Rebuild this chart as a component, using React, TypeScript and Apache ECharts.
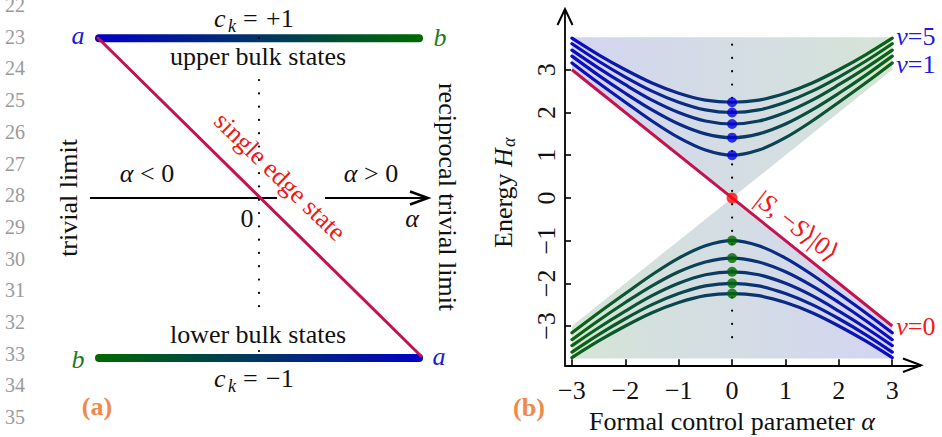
import React, { useEffect, useRef } from 'react';
import * as echarts from 'echarts';

const FONT = '"Liberation Serif", "DejaVu Serif", serif';

// ---- data (panel b) ----
const alphaGrid = [-3, -2.5, -2, -1.5, -1, -0.5, 0, 0.5, 1, 1.5, 2, 2.5, 3];
const upperV1 = [3.16, 2.69, 2.24, 1.80, 1.41, 1.12, 1.00, 1.12, 1.41, 1.80, 2.24, 2.69, 3.16];
const upperV2 = [3.32, 2.87, 2.45, 2.06, 1.73, 1.50, 1.41, 1.50, 1.73, 2.06, 2.45, 2.87, 3.32];
const upperV3 = [3.46, 3.04, 2.65, 2.29, 2.00, 1.80, 1.73, 1.80, 2.00, 2.29, 2.65, 3.04, 3.46];
const upperV4 = [3.61, 3.20, 2.83, 2.50, 2.24, 2.06, 2.00, 2.06, 2.24, 2.50, 2.83, 3.20, 3.61];
const upperV5 = [3.74, 3.35, 3.00, 2.69, 2.45, 2.29, 2.24, 2.29, 2.45, 2.69, 3.00, 3.35, 3.74];
const lowerV1 = [-3.16, -2.69, -2.24, -1.80, -1.41, -1.12, -1.00, -1.12, -1.41, -1.80, -2.24, -2.69, -3.16];
const lowerV2 = [-3.32, -2.87, -2.45, -2.06, -1.73, -1.50, -1.41, -1.50, -1.73, -2.06, -2.45, -2.87, -3.32];
const lowerV3 = [-3.46, -3.04, -2.65, -2.29, -2.00, -1.80, -1.73, -1.80, -2.00, -2.29, -2.65, -3.04, -3.46];
const lowerV4 = [-3.61, -3.20, -2.83, -2.50, -2.24, -2.06, -2.00, -2.06, -2.24, -2.50, -2.83, -3.20, -3.61];
const lowerV5 = [-3.74, -3.35, -3.00, -2.69, -2.45, -2.29, -2.24, -2.29, -2.45, -2.69, -3.00, -3.35, -3.74];
const edgeAlpha = [-3, 3];
const edgeEnergy = [3, -3];
const upperDots = [1.0, 1.41, 1.73, 2.0, 2.24];
const lowerDots = [-1.0, -1.41, -1.73, -2.0, -2.24];
const upperCone = [[-3, 3.76], [3, 3.76], [3, 3], [0, 0], [-3, 3]];
const lowerCone = [[-3, -3], [0, 0], [3, -3], [3, -3.76], [-3, -3.76]];
const dottedRange = [3.59, -3.44];
const xTicks = [-3, -2, -1, 0, 1, 2, 3];
const yTicks = [-3, -2, -1, 0, 1, 2, 3];
const lineNumbers = [22, 23, 24, 25, 26, 27, 28, 29, 30, 31, 32, 33, 34, 35];

const BLUE = '#0b0bc4';
const GREEN = '#0a6410';
const CRIMSON = '#c5124d';
const RED = '#f01818';
const ORANGE = '#f0894a';

const fmt = (v: number) => (v < 0 ? '\u2212' + Math.abs(v) : String(v));

function T(x: number, y: number, text: string, o: any = {}) {
  return {
    type: 'text',
    x,
    y,
    z: o.z ?? 10,
    rotation: o.rotation ?? 0,
    style: {
      text,
      fill: o.fill ?? '#111',
      fontSize: o.fontSize ?? 26,
      fontFamily: FONT,
      fontStyle: o.italic ? 'italic' : 'normal',
      fontWeight: o.bold ? 'bold' : 'normal',
      align: o.align ?? 'center',
      verticalAlign: 'middle',
      textAlign: o.align ?? 'center',
      textVerticalAlign: 'middle',
      lineHeight: o.lineHeight,
      rich: o.rich,
    },
  };
}

const richIt = (color: string, size = 26, lineHeight?: number) => ({
  n: { fontSize: size, fontFamily: FONT, color, fill: color, fontStyle: 'normal', lineHeight },
  i: { fontSize: size, fontFamily: FONT, color, fill: color, fontStyle: 'italic', lineHeight },
});

export default function App() {
  const ref = useRef<HTMLDivElement>(null);
  useEffect(() => {
    if (!ref.current) return;
    const chart = echarts.init(ref.current, undefined, { renderer: 'svg' });
    const LG = echarts.graphic.LinearGradient;
    const cones = [upperCone, lowerCone];

    const upStops = () => [
      { offset: 0, color: BLUE },
      { offset: 1, color: GREEN },
    ];
    const downStops = () => [
      { offset: 0, color: GREEN },
      { offset: 1, color: BLUE },
    ];

    const curve = (vals: number[], upper: boolean, label?: string, dy = 0) => ({
      type: 'line',
      data: alphaGrid.map((a, i) => [a, vals[i]]),
      smooth: 0.35,
      symbol: 'none',
      showSymbol: false,
      silent: true,
      z: 3,
      lineStyle: { width: 3.2, cap: 'round', color: new LG(0, 0, 1, 0, upper ? upStops() : downStops()) },
      endLabel: label
        ? {
            show: true,
            distance: 4,
            offset: [0, dy],
            lineHeight: 20,
            formatter: '{i|v}{n|=' + label + '}',
            rich: richIt('#1c1cdc', 26, 20),
          }
        : { show: false },
    });

    const graphics: any[] = [];
    // line numbers
    lineNumbers.forEach((n, i) =>
      graphics.push(T(15, 5 + 31.7 * i, String(n), { fill: '#9a9a9a', fontSize: 20, lineHeight: 14 }))
    );
    // bars
    graphics.push({
      type: 'rect', z: 5,
      shape: { x: 95, y: 34.3, width: 328, height: 8, r: 4 },
      style: { fill: new LG(0, 0, 1, 0, [{ offset: 0, color: '#0000c8' }, { offset: 1, color: '#006a00' }]) },
    });
    graphics.push({
      type: 'rect', z: 5,
      shape: { x: 95, y: 354, width: 328, height: 8, r: 4 },
      style: { fill: new LG(0, 0, 1, 0, [{ offset: 0, color: '#006a00' }, { offset: 1, color: '#0000c8' }]) },
    });
    // dotted vertical (left)
    graphics.push({
      type: 'line', z: 4,
      shape: { x1: 259, y1: 80, x2: 259, y2: 314 },
      style: { stroke: '#000', lineWidth: 2.2, lineDash: [0.1, 13.2], lineCap: 'round' },
    });
    graphics.push({ type: 'circle', z: 6, shape: { cx: 259, cy: 38, r: 1.1 }, style: { fill: '#000' } });
    graphics.push({ type: 'circle', z: 6, shape: { cx: 259, cy: 351, r: 1.1 }, style: { fill: '#000' } });
    // red diagonal
    graphics.push({
      type: 'line', z: 7,
      shape: { x1: 98, y1: 38, x2: 421, y2: 356 },
      style: { stroke: CRIMSON, lineWidth: 3, lineCap: 'round' },
    });
    // horizontal arrow
    graphics.push({ type: 'line', z: 6, shape: { x1: 90, y1: 198, x2: 277, y2: 198 }, style: { stroke: '#000', lineWidth: 2.2 } });
    graphics.push({ type: 'line', z: 6, shape: { x1: 325, y1: 198, x2: 426, y2: 198 }, style: { stroke: '#000', lineWidth: 2.2 } });
    graphics.push({
      type: 'polyline', z: 6,
      shape: { points: [[410, 191.5], [428, 198], [410, 204.5]] },
      style: { stroke: '#000', lineWidth: 2.4, fill: 'none' },
    });
    // left texts
    graphics.push(T(78, 35, 'a', { italic: true, fill: '#1a1ad6' }));
    graphics.push(T(440, 37.5, 'b', { italic: true, fill: '#1f7a1f' }));
    graphics.push(T(439, 356, 'a', { italic: true, fill: '#1a1ad6' }));
    graphics.push(T(78, 359, 'b', { italic: true, fill: '#1f7a1f' }));
    // c_k = +1
    graphics.push(T(214, 18, 'c', { italic: true, align: 'left' }));
    graphics.push(T(228, 26, 'k', { italic: true, align: 'left', fontSize: 18 }));
    graphics.push(T(243, 18, '=', { align: 'left' }));
    graphics.push(T(266, 18, '+1', { align: 'left' }));
    // c_k = -1
    graphics.push(T(214, 378, 'c', { italic: true, align: 'left' }));
    graphics.push(T(228, 386, 'k', { italic: true, align: 'left', fontSize: 18 }));
    graphics.push(T(243, 378, '=', { align: 'left' }));
    graphics.push(T(266, 378, '\u22121', { align: 'left' }));
    graphics.push(T(258, 56, 'upper bulk states'));
    graphics.push(T(258, 334, 'lower bulk states'));
    graphics.push(T(147, 173, '{i|\u03b1}{n| < 0}', { rich: richIt('#111') }));
    graphics.push(T(371, 173, '{i|\u03b1}{n| > 0}', { rich: richIt('#111') }));
    graphics.push(T(247, 218, '0'));
    graphics.push(T(412, 218, '\u03b1', { italic: true }));
    graphics.push(T(68, 198, 'trivial limit', { rotation: Math.PI / 2 }));
    graphics.push(T(447, 197, 'reciprocal trivial limit', { rotation: -Math.PI / 2 }));
    graphics.push(T(280, 176.5, 'single edge state', { rotation: -0.77, fill: RED }));
    graphics.push(T(97, 406, '(a)', { bold: true, fill: ORANGE }));

    // right panel decorations
    graphics.push({
      type: 'polyline', z: 20,
      shape: { points: [[557.5, 25], [565, 9], [572.5, 25]] },
      style: { stroke: '#000', lineWidth: 2, fill: 'none' },
    });
    graphics.push({
      type: 'polyline', z: 20,
      shape: { points: [[903, 358.5], [921, 365.3], [903, 372]] },
      style: { stroke: '#000', lineWidth: 2, fill: 'none' },
    });
    graphics.push(T(529, 407, '(b)', { bold: true, fill: ORANGE }));
    graphics.push(T(732, 421, '{n|Formal control parameter }{i|\u03b1}', { rich: richIt('#111') }));
    graphics.push({
      type: 'group',
      x: 503,
      y: 193,
      rotation: Math.PI / 2,
      children: [
        T(-55, 0, '{n|Energy }{i|H}', { align: 'left', rich: richIt('#111') }),
        T(46, 6, '\u03b1', { align: 'left', italic: true, fontSize: 18 }),
      ],
    });
    graphics.push(
      T(797, 226, '{n||}{i|S}{n|, \u2212}{i|S}{n|\u27e9|0\u27e9}', { rotation: -0.66, fill: RED, rich: richIt(RED) })
    );

    const option: any = {
      animation: false,
      backgroundColor: '#fff',
      grid: { left: 565, top: 10, width: 355, height: 355.3 },
      xAxis: {
        type: 'value',
        min: -3.13,
        max: 3.52,
        splitLine: { show: false },
        axisLine: { show: true, onZero: false, lineStyle: { color: '#000', width: 1.8 } },
        axisTick: { show: true, inside: true, length: 6, customValues: xTicks, lineStyle: { color: '#000', width: 1.6 } },
        axisLabel: { customValues: xTicks, formatter: fmt, fontSize: 26, fontFamily: FONT, color: '#111', margin: 12 },
      },
      yAxis: {
        type: 'value',
        min: -3.92,
        max: 4.4,
        splitLine: { show: false },
        axisLine: { show: true, onZero: false, lineStyle: { color: '#000', width: 1.8 } },
        axisTick: { show: true, inside: true, length: 6, customValues: yTicks, lineStyle: { color: '#000', width: 1.6 } },
        axisLabel: { customValues: yTicks, formatter: fmt, fontSize: 26, fontFamily: FONT, color: '#111', margin: 6, rotate: 90 },
      },
      graphic: graphics,
      series: [
        {
          type: 'custom',
          z: 1,
          silent: true,
          data: [[0, 0], [0, 0]],
          renderItem: (params: any, api: any) => {
            const poly = cones[params.dataIndex];
            const pts = poly.map((p) => api.coord(p));
            const stops = params.dataIndex === 0
              ? [{ offset: 0, color: '#d3d5f1' }, { offset: 1, color: '#d5e4d7' }]
              : [{ offset: 0, color: '#d5e4d7' }, { offset: 1, color: '#d3d5f1' }];
            return { type: 'polygon', shape: { points: pts }, style: { fill: new LG(0, 0, 1, 0, stops) } };
          },
        },
        {
          type: 'line',
          z: 2,
          silent: true,
          symbol: 'none',
          data: [[0, dottedRange[0]], [0, dottedRange[1]]],
          lineStyle: { color: '#000', width: 2.2, type: [0.1, 13.2], cap: 'round' },
        },
        curve(upperV1, true, '1', 1.5),
        curve(upperV2, true),
        curve(upperV3, true),
        curve(upperV4, true),
        curve(upperV5, true, '5', -2),
        curve(lowerV1, false),
        curve(lowerV2, false),
        curve(lowerV3, false),
        curve(lowerV4, false),
        curve(lowerV5, false),
        {
          type: 'line',
          z: 4,
          silent: true,
          symbol: 'none',
          data: edgeAlpha.map((a, i) => [a, edgeEnergy[i]]),
          lineStyle: { color: CRIMSON, width: 3 },
          endLabel: { show: true, distance: 4, formatter: '{i|v}{n|=0}', rich: richIt(RED) },
        },
        {
          type: 'scatter',
          z: 5,
          silent: true,
          symbolSize: 10,
          itemStyle: { color: '#0000e0' },
          data: upperDots.map((e) => [0, e]),
        },
        {
          type: 'scatter',
          z: 5,
          silent: true,
          symbolSize: 10,
          itemStyle: { color: '#006a00' },
          data: lowerDots.map((e) => [0, e]),
        },
        {
          type: 'scatter',
          z: 6,
          silent: true,
          symbolSize: 11,
          itemStyle: { color: '#ff0a0a' },
          data: [[0, 0]],
        },
      ],
    };
    chart.setOption(option);
    return () => chart.dispose();
  }, []);
  return (
    <div
      ref={ref}
      style={{ position: 'absolute', left: 0, top: 0, width: 942, height: 437, background: '#fff' }}
    />
  );
}
